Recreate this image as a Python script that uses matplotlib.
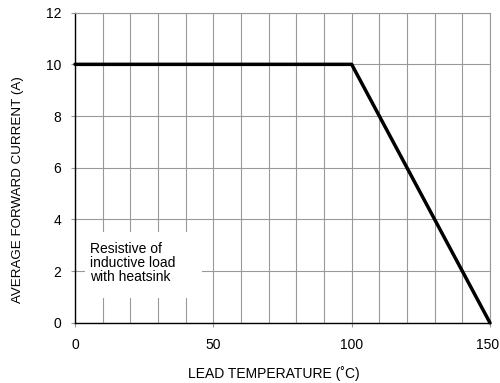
import matplotlib
matplotlib.use("Agg")
import matplotlib.pyplot as plt
import matplotlib.transforms as mtransforms
from matplotlib.patches import Rectangle

plt.rcParams['font.family'] = ['Liberation Sans', 'DejaVu Sans']

# derating curve
temperature = [0, 100, 150]
current = [10, 10, 0]

xTicks = [0, 50, 100, 150]
yTicks = [0, 2, 4, 6, 8, 10, 12]
note = "Resistive of\ninductive load\nwith heatsink"

fig = plt.figure(figsize=(5, 3.83), dpi=100)
ax = fig.add_axes([0.15, 0.157, 0.83, 0.81])

ax.set_xlim(0, 150)
ax.set_ylim(0, 12)
ax.set_xticks(xTicks)
ax.set_xticks(range(0, 151, 10), minor=True)
ax.set_yticks(yTicks)

ax.grid(which='both', color='#999999', linewidth=0.8)
ax.tick_params(which='minor', length=0)
ax.tick_params(which='major', length=3, color='#999999', labelsize=10)
ax.tick_params(axis='x', pad=8)
ax.tick_params(axis='y', pad=7)
ax.set_axisbelow(True)

# nudge the last x label so it stays inside the figure
fig.canvas.draw()
lastLabel = ax.get_xticklabels()[-1]
lastLabel.set_transform(lastLabel.get_transform() + mtransforms.ScaledTranslation(-2 / 72, 0, fig.dpi_scale_trans))

for side in ['top', 'right']:
    ax.spines[side].set_color('#999999')
    ax.spines[side].set_linewidth(0.8)
for side in ['left', 'bottom']:
    ax.spines[side].set_color('black')
    ax.spines[side].set_linewidth(1.0)

ax.plot(temperature, current, color='black', linewidth=2.5, solid_capstyle='round', zorder=4, clip_on=False)

ax.add_patch(Rectangle((3.6, 0.97), 42.3, 2.54, facecolor='white', edgecolor='none', zorder=2))
ax.text(5.4, 3.12, note, fontsize=10, va='top', ha='left', linespacing=1.0, zorder=3)

ax.set_xlabel("LEAD TEMPERATURE (˚C)", fontsize=10)
ax.set_ylabel("AVERAGE FORWARD CURRENT (A)", fontsize=9.6)
ax.xaxis.set_label_coords(0.48, -0.14)
ax.yaxis.set_label_coords(-0.123, 0.43)

fig.savefig("out.png", dpi=100)
